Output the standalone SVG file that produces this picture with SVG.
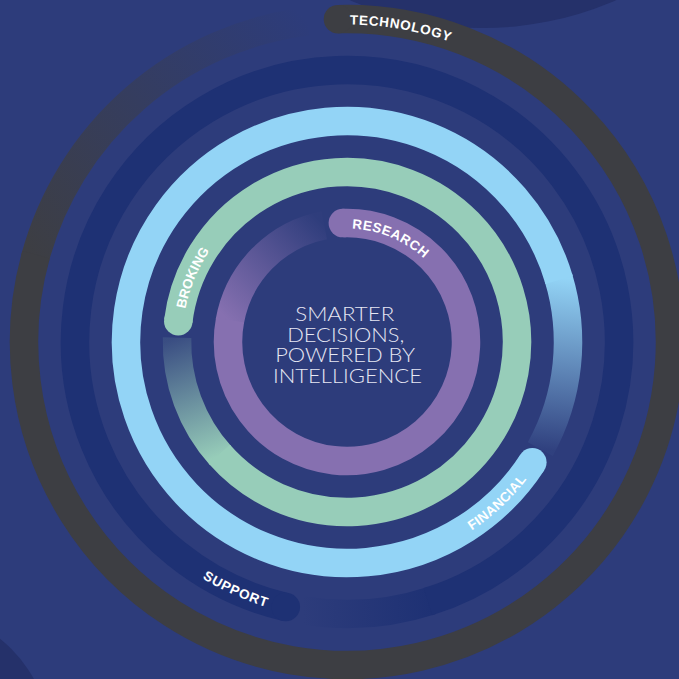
<svg xmlns="http://www.w3.org/2000/svg" width="679" height="679" viewBox="0 0 679 679">
  <style>
    .ring { fill: none; stroke-width: 28.5; stroke-linecap: butt; }
    .lbl { font-family: "Liberation Sans", Arial, sans-serif; font-weight: 700; fill: #ffffff; font-size: 13.5px; }
    .ctr { font-family: "Lato", "Open Sans", sans-serif; font-weight: 300; fill: #e6e7f3; font-size: 20.5px; text-anchor: middle; }
  </style>
  <defs>
    <linearGradient id="fGrey" gradientUnits="userSpaceOnUse" x1="35.0" y1="258.4" x2="307.64" y2="21.41">
      <stop offset="0" stop-color="#3d3e43" stop-opacity="1"/>
      <stop offset="1" stop-color="#3d3e43" stop-opacity="0"/>
    </linearGradient>
    <linearGradient id="fPurple" gradientUnits="userSpaceOnUse" x1="229.81" y1="321.34" x2="324.29" y2="225.19">
      <stop offset="0" stop-color="#8670b0" stop-opacity="1"/>
      <stop offset="1" stop-color="#8670b0" stop-opacity="0.02"/>
    </linearGradient>
    <linearGradient id="fGreen" gradientUnits="userSpaceOnUse" x1="220.67" y1="455.75" x2="177.06" y2="337.55">
      <stop offset="0" stop-color="#97cdb9" stop-opacity="1"/>
      <stop offset="1" stop-color="#97cdb9" stop-opacity="0.12"/>
    </linearGradient>
    <linearGradient id="fBlue" gradientUnits="userSpaceOnUse" x1="558.34" y1="277.39" x2="540.29" y2="449.14">
      <stop offset="0" stop-color="#93d4f6" stop-opacity="1"/>
      <stop offset="1" stop-color="#93d4f6" stop-opacity="0.03"/>
    </linearGradient>
    <linearGradient id="fNavy" gradientUnits="userSpaceOnUse" x1="431.05" y1="600.69" x2="302.11" y2="610.27">
      <stop offset="0" stop-color="#1e3174" stop-opacity="1"/>
      <stop offset="1" stop-color="#1e3174" stop-opacity="0"/>
    </linearGradient>
    <path id="tpTech" d="M349.77,24.51 A317.5,317.5 0 0 1 505.75,67.04"/>
    <path id="tpRes" d="M351.95,228.61 A113.5,113.5 0 0 1 453.65,303.18"/>
    <path id="tpBrok" d="M185.31,309.10 A165,165 0 0 1 264.5,199.11"/>
    <path id="tpFin" d="M471.74,530.46 A226,226 0 0 0 565.30,400.49"/>
    <path id="tpSup" d="M202.27,578.18 A277,277 0 0 0 347,619"/>
  </defs>

  <rect x="0" y="0" width="679" height="679" fill="#2d3c7b"/>
  <circle cx="483" cy="-304" r="332" fill="#25316a"/>
  <circle cx="-85" cy="745" r="136" fill="#25316a"/>

  <g id="technology">
    <path class="ring" d="M35.0,258.4 A323,323 0 0 1 307.64,21.41" stroke="url(#fGrey)"/>
    <path class="ring" d="M337.98,19.13 A323,323 0 1 1 36.05,254.60" stroke="#3d3e43"/>
    <circle cx="337.98" cy="19.13" r="14.25" fill="#3d3e43"/>
    <text class="lbl" font-size="14" letter-spacing="0.7"><textPath href="#tpTech">TECHNOLOGY</textPath></text>
  </g>

  <g id="support">
    <path class="ring" d="M431.05,600.69 A272,272 0 0 1 302.11,610.27" stroke="url(#fNavy)"/>
    <path class="ring" d="M285.81,607.03 A272,272 0 1 1 427.88,601.70" stroke="#1e3174"/>
    <circle cx="285.81" cy="607.03" r="14.25" fill="#1e3174"/>
    <text class="lbl" font-size="14" letter-spacing="0.8"><textPath href="#tpSup">SUPPORT</textPath></text>
  </g>

  <g id="financial">
    <path class="ring" d="M558.34,277.39 A221,221 0 0 1 540.29,449.14" stroke="url(#fBlue)"/>
    <path class="ring" d="M532.35,462.37 A221,221 0 1 1 559.12,279.97" stroke="#93d4f6"/>
    <circle cx="532.35" cy="462.37" r="14.25" fill="#93d4f6"/>
    <text class="lbl" font-size="14" letter-spacing="0.3"><textPath href="#tpFin">FINANCIAL</textPath></text>
  </g>

  <g id="broking">
    <path class="ring" d="M220.67,455.75 A170,170 0 0 1 177.06,337.55" stroke="url(#fGreen)"/>
    <path class="ring" d="M178.27,321.28 A170,170 0 1 1 219.28,454.20" stroke="#97cdb9"/>
    <circle cx="178.27" cy="321.28" r="14.25" fill="#97cdb9"/>
    <text class="lbl" font-size="13"><textPath href="#tpBrok">BROKING</textPath></text>
  </g>

  <g id="research">
    <path class="ring" d="M229.81,321.34 A119,119 0 0 1 324.29,225.19" stroke="url(#fPurple)"/>
    <path class="ring" d="M342.85,223.07 A119,119 0 1 1 230.07,319.91" stroke="#8670b0"/>
    <circle cx="342.85" cy="223.07" r="14.25" fill="#8670b0"/>
    <text class="lbl" letter-spacing="0.5"><textPath href="#tpRes">RESEARCH</textPath></text>
  </g>

  <g id="centre">
    <text class="ctr">
      <tspan x="347.5" y="321" textLength="99" lengthAdjust="spacingAndGlyphs">SMARTER</tspan>
      <tspan x="348.5" y="342" textLength="117" lengthAdjust="spacingAndGlyphs">DECISIONS,</tspan>
      <tspan x="347.5" y="362" textLength="139" lengthAdjust="spacingAndGlyphs">POWERED BY</tspan>
      <tspan x="347.5" y="383" textLength="149" lengthAdjust="spacingAndGlyphs">INTELLIGENCE</tspan>
    </text>
  </g>
</svg>
